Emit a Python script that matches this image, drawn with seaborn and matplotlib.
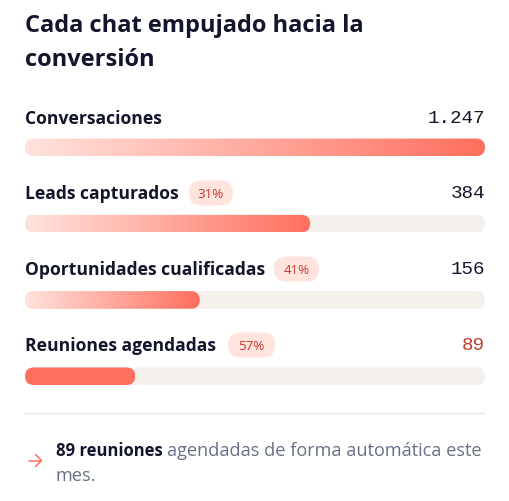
import numpy as np
import pandas as pd
import seaborn as sns
import matplotlib
matplotlib.use("Agg")
import matplotlib.pyplot as plt
from matplotlib.patches import FancyBboxPatch
from matplotlib.colors import LinearSegmentedColormap

categories = ["Conversaciones", "Leads capturados", "Oportunidades cualificadas", "Reuniones agendadas"]
value_labels = ["1.247", "384", "156", "89"]
fill_percent = [100, 62, 38, 24]
track_percent = [100, 100, 100, 100]
rate_labels = [None, "31%", "41%", "57%"]
title_lines = ["Cada chat empujado hacia la", "conversión"]

INK = "#12152B"; CORAL = "#FF6F5E"; LIGHT = "#FFE3DD"; TRACK = "#F4F0EB"; RED = "#C0392B"; GRAY = "#667085"
FONT = "Open Sans"

sns.set_theme(style="white")
plt.rcParams["font.family"] = [FONT, "DejaVu Sans"]
W, H = 510, 502
fig = plt.figure(figsize=(W / 100, H / 100), dpi=100, facecolor="white")

# bar axes: 0-100 % spans 25..485 px, one category = 76.3 px
top, step = 110.2, 76.3
ax = fig.add_axes([25 / W, 1 - (top + 4 * step) / H, 460 / W, 4 * step / H])
df = pd.DataFrame({"stage": categories, "track": track_percent, "fill": fill_percent})
bw = 17.6 / step
sns.barplot(df, y="stage", x="track", color=TRACK, saturation=1, width=bw, ax=ax, order=categories)
n_track = len(ax.patches)
sns.barplot(df, y="stage", x="fill", color=CORAL, saturation=1, width=bw, ax=ax, order=categories)
ax.set_xlim(0, 100)
ax.set_ylim(3.5, -0.5)
ax.axis("off")

asp = 4.6 / step
rad = 9 / 4.6
def rounded(p):
    return FancyBboxPatch((p.get_x(), p.get_y()), p.get_width(), p.get_height(),
                          boxstyle=f"round,pad=0,rounding_size={rad}",
                          mutation_aspect=asp, transform=ax.transData, fc="none", ec="none")

cmap = LinearSegmentedColormap.from_list("g", [LIGHT, CORAL])
for i, p in enumerate(ax.patches):
    p.set_linewidth(0)
    p.set_clip_path(rounded(p))
    if i >= n_track and i - n_track < 3:
        p.set_facecolor(LIGHT)
        x0, w, y0, h = p.get_x(), p.get_width(), p.get_y(), p.get_height()
        im = ax.imshow(np.linspace(0, 1, 256)[None, :], cmap=cmap, aspect="auto",
                       extent=(x0, x0 + w, y0 + h, y0), zorder=3, interpolation="bilinear")
        im.set_clip_path(rounded(p))
ax.set_xlim(0, 100)
ax.set_ylim(3.5, -0.5)

# overlay in figure pixels for text
tx = fig.add_axes([0, 0, 1, 1], facecolor="none")
tx.set_xlim(0, W); tx.set_ylim(H, 0); tx.axis("off")

for line, y in zip(title_lines, [26, 60]):
    tx.text(25, y, line, fontsize=17, fontweight=700, color=INK, va="center", ha="left")

label_y = [118, 193, 269, 345]
label_w = [None, 189, 274, 228]
pill_w = [None, 44, 45, 47]
for i, cat in enumerate(categories):
    tx.text(25, label_y[i] + 1.5, cat, fontsize=12.6, fontweight=700, color=INK, va="center", ha="left")
    tx.text(485, label_y[i] + 0.5, value_labels[i], fontsize=13.9, family=["Liberation Mono"],
            color=RED if i == 3 else INK, va="center", ha="right")
    if rate_labels[i]:
        x0, w = label_w[i], pill_w[i]
        tx.add_patch(FancyBboxPatch((x0, label_y[i] - 11.5), w, 25,
                                    boxstyle="round,pad=0,rounding_size=12.5", fc=LIGHT, ec="none"))
        tx.text(x0 + w / 2, label_y[i] + 1.5, rate_labels[i], fontsize=9.6, color=RED, va="center", ha="center")

tx.plot([25, 485], [413.5, 413.5], color="#E8E8E8", lw=1)

# arrow
tx.plot([29, 41.5], [461.5, 461.5], color=CORAL, lw=1.1, solid_capstyle="round")
tx.plot([35.5, 41.5, 35.5], [455.5, 461.5, 467.5], color=CORAL, lw=1.1, solid_capstyle="round", solid_joinstyle="miter")

tx.text(56, 451, "89 reuniones", fontsize=12, fontweight=700, color=INK, va="center", ha="left")
tx.text(167, 451, "agendadas de forma automática este", fontsize=13.05, color=GRAY, va="center", ha="left")
tx.text(56, 476, "mes.", fontsize=13.05, color=GRAY, va="center", ha="left")

fig.savefig("out.png", dpi=100, facecolor="white")
